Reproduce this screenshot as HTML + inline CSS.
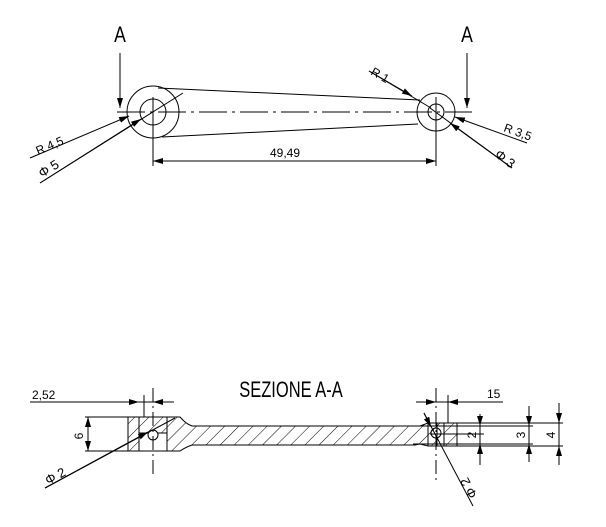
<!DOCTYPE html>
<html><head><style>html,body{margin:0;padding:0;background:#fff}svg{display:block}text{font-family:"Liberation Sans",sans-serif;fill:#000}</style></head>
<body>
<svg width="606" height="527" viewBox="0 0 606 527" xmlns="http://www.w3.org/2000/svg">
<defs>
<pattern id="h" patternUnits="userSpaceOnUse" width="10" height="10" patternTransform="rotate(45)">
<line x1="0" y1="0" x2="0" y2="10" stroke="#000" stroke-width="1"/>
</pattern>
<marker id="a" viewBox="0 0 10 6" refX="10" refY="3" markerWidth="10" markerHeight="6" orient="auto-start-reverse" markerUnits="userSpaceOnUse"><path d="M0,0L10,3L0,6z" fill="#000"/></marker>
</defs>
<g stroke="#000" stroke-width="1" fill="none">
<circle cx="153" cy="112" r="26"/><circle cx="153" cy="112" r="13"/>
<circle cx="436" cy="112" r="19"/><circle cx="436" cy="112" r="8"/>
<line x1="158" y1="88" x2="420" y2="100"/>
<line x1="162" y1="137" x2="418" y2="124"/>
<line x1="117" y1="112" x2="470" y2="112" stroke-dasharray="28,5,3,5"/>
<line x1="120" y1="53" x2="120" y2="108" marker-end="url(#a)"/>
<line x1="467" y1="53" x2="467" y2="108" marker-end="url(#a)"/>
<line x1="450" y1="112" x2="472" y2="112"/>
<line x1="153" y1="97" x2="153" y2="166"/>
<line x1="436" y1="97" x2="436" y2="166"/>
<line x1="153" y1="161" x2="436" y2="161" marker-start="url(#a)" marker-end="url(#a)"/>
<line x1="30" y1="158" x2="129" y2="116" marker-end="url(#a)"/>
<line x1="40" y1="183" x2="183" y2="93"/>
<line x1="40" y1="183" x2="141" y2="119" marker-end="url(#a)"/>
<line x1="369" y1="71" x2="431" y2="108"/>
<line x1="369" y1="71" x2="412" y2="96" marker-end="url(#a)"/>
<line x1="527" y1="143" x2="455" y2="117" marker-end="url(#a)"/>
<line x1="512" y1="168" x2="430" y2="108"/>
<line x1="512" y1="168" x2="450" y2="123" marker-end="url(#a)"/>
<path d="M128,417 H180 Q186,424 192,426 H415 L420,426 L428,423 H457 V446 H428 L420,444 L415,445 H192 Q186,447 180,451 H128 Z" fill="url(#h)"/>
<rect x="139" y="433" width="28" height="18" fill="#fff"/>
<line x1="139" y1="417" x2="139" y2="451"/><line x1="167" y1="417" x2="167" y2="451"/>
<rect x="437" y="426" width="7" height="18" fill="#fff"/>
<line x1="428" y1="423" x2="428" y2="446"/><line x1="437" y1="423" x2="437" y2="446"/><line x1="444" y1="423" x2="444" y2="446"/><line x1="457" y1="423" x2="457" y2="446"/>
<line x1="413" y1="426" x2="533" y2="426"/><line x1="413" y1="444" x2="533" y2="444"/>
<line x1="457" y1="423" x2="563" y2="423"/><line x1="457" y1="446" x2="563" y2="446"/>
<line x1="430" y1="434" x2="484" y2="434"/>
<circle cx="153" cy="435" r="5" fill="#fff"/><circle cx="436" cy="433" r="5"/>
<line x1="153" y1="388" x2="153" y2="478" stroke-dasharray="14,4,2,4"/>
<line x1="436" y1="388" x2="436" y2="480" stroke-dasharray="14,4,2,4"/>
<line x1="144" y1="395" x2="144" y2="417"/><line x1="448" y1="395" x2="448" y2="423"/>
<line x1="30" y1="402" x2="174" y2="402"/>
<line x1="128" y1="402" x2="139" y2="402" marker-end="url(#a)"/>
<line x1="164" y1="402" x2="153" y2="402" marker-end="url(#a)"/>
<line x1="416" y1="402" x2="503" y2="402"/>
<line x1="425" y1="402" x2="436" y2="402" marker-end="url(#a)"/>
<line x1="460" y1="402" x2="448" y2="402" marker-end="url(#a)"/>
<line x1="85" y1="417" x2="128" y2="417"/><line x1="85" y1="451" x2="128" y2="451"/>
<line x1="88" y1="434" x2="88" y2="417" marker-end="url(#a)"/><line x1="88" y1="434" x2="88" y2="451" marker-end="url(#a)"/>
<line x1="480" y1="414" x2="480" y2="465"/>
<line x1="480" y1="414" x2="480" y2="426" marker-end="url(#a)"/><line x1="480" y1="465" x2="480" y2="444" marker-end="url(#a)"/>
<line x1="529" y1="406" x2="529" y2="462"/>
<line x1="529" y1="406" x2="529" y2="426" marker-end="url(#a)"/><line x1="529" y1="462" x2="529" y2="444" marker-end="url(#a)"/>
<line x1="559" y1="403" x2="559" y2="465"/>
<line x1="559" y1="403" x2="559" y2="423" marker-end="url(#a)"/><line x1="559" y1="465" x2="559" y2="446" marker-end="url(#a)"/>
<line x1="45" y1="488" x2="175" y2="418"/>
<line x1="45" y1="488" x2="148" y2="432" marker-end="url(#a)"/>
<line x1="424" y1="413" x2="473" y2="506"/>
<line x1="424" y1="413" x2="431" y2="427" marker-end="url(#a)"/>
</g>
<g font-size="22"><text x="120" y="42" text-anchor="middle" transform="translate(120,0) scale(0.8,1) translate(-120,0)">A</text>
<text x="467" y="42" text-anchor="middle" transform="translate(467,0) scale(0.8,1) translate(-467,0)">A</text>
<text x="291" y="397" text-anchor="middle" transform="translate(291,0) scale(0.75,1) translate(-291,0)">SEZIONE A-A</text></g>
<g font-size="12">
<text x="270" y="157">49,49</text>
<text x="38" y="155" transform="rotate(-23 38 155)">R 4,5</text>
<text x="42" y="178" font-size="13" transform="rotate(-32 42 178)">Φ 5</text>
<text x="370" y="74" transform="rotate(30 370 74)">R 1</text>
<text x="503" y="131" transform="rotate(20 503 131)">R 3,5</text>
<text x="494" y="156" font-size="13" transform="rotate(37 494 156)">Φ 3</text>
<text x="32" y="399">2,52</text>
<text x="487" y="398">15</text>
<text x="83" y="436" transform="rotate(-90 83 436)" text-anchor="middle">6</text>
<text x="476" y="435" transform="rotate(-90 476 435)" text-anchor="middle">2</text>
<text x="525" y="435" transform="rotate(-90 525 435)" text-anchor="middle">3</text>
<text x="555" y="435" transform="rotate(-90 555 435)" text-anchor="middle">4</text>
<text x="48" y="485" font-size="13" transform="rotate(-28 48 485)">Φ 2</text>
<text x="471" y="483" font-size="13" transform="rotate(62 471 483) rotate(180 478 483)">Φ 2</text>
</g>
</svg>
</body></html>
